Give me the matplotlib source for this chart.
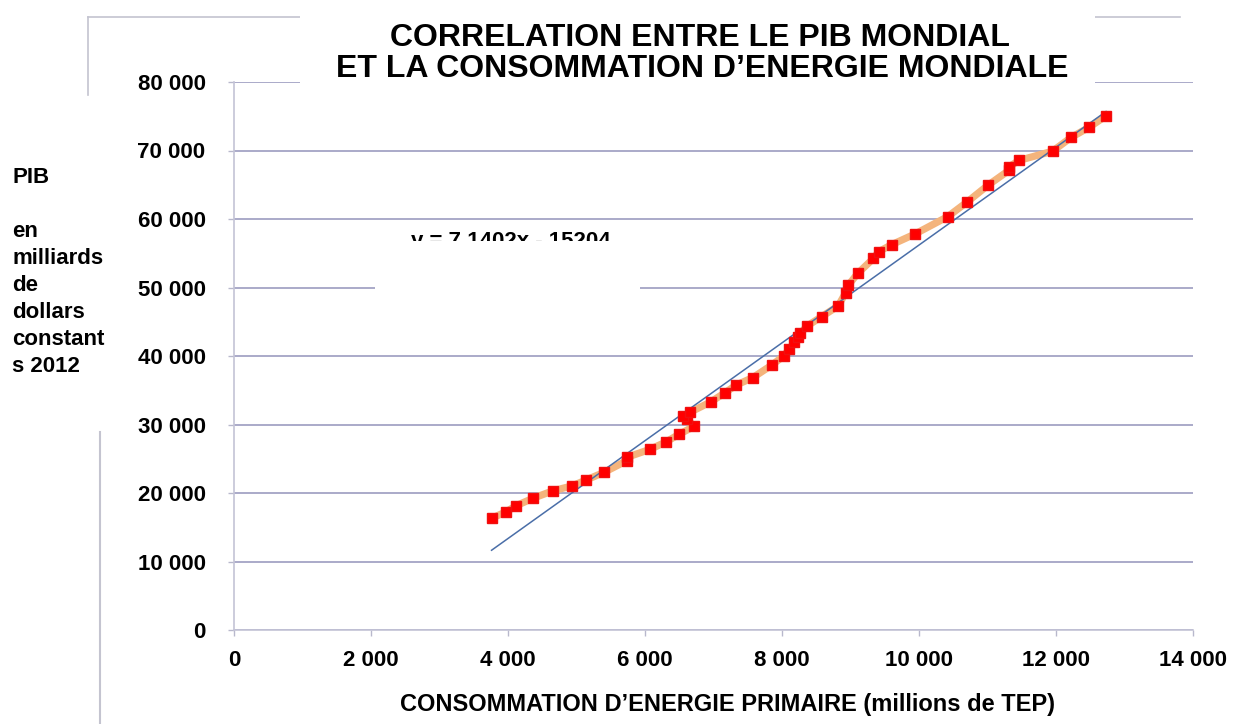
import matplotlib
matplotlib.use('Agg')
import matplotlib.pyplot as plt
from matplotlib.patches import Rectangle
from matplotlib.lines import Line2D

# energy consumption (millions TEP) and world GDP (billions 2012 USD)
energy = [3760, 3970, 4120, 4365, 4650, 4940, 5140, 5400, 5730, 5735,
          6080, 6305, 6495, 6720, 6610, 6560, 6660, 6960, 7170, 7330,
          7575, 7855, 8025, 8105, 8180, 8230, 8265, 8370, 8580, 8820,
          8930, 8970, 9105, 9335, 9415, 9600, 9940, 10420, 10705, 11010,
          11320, 11320, 11460, 11950, 12220, 12485, 12730]
gdp = [16300, 17250, 18150, 19230, 20300, 21050, 21900, 23000, 24700, 25200,
       26400, 27450, 28550, 29750, 30750, 31250, 31800, 33300, 34650, 35750,
       36850, 38700, 40000, 41000, 42000, 42750, 43300, 44400, 45750, 47300,
       49250, 50350, 52050, 54250, 55250, 56250, 57800, 60350, 62500, 64950,
       67150, 67650, 68550, 69900, 71900, 73400, 75050]

# linear trend shown on the chart: y = 7.1402x - 15204
slope = 7.1402
intercept = -15204

x_ticks = [0, 2000, 4000, 6000, 8000, 10000, 12000, 14000]
y_ticks = [0, 10000, 20000, 30000, 40000, 50000, 60000, 70000, 80000]

title_lines = ["CORRELATION ENTRE LE PIB MONDIAL",
               "ET LA CONSOMMATION D\u2019ENERGIE MONDIALE"]
ylabel_lines = ["PIB", "", "en", "milliards", "de", "dollars", "constant", "s 2012"]
xlabel = "CONSOMMATION D\u2019ENERGIE PRIMAIRE (millions de TEP)"

plt.rcParams['font.family'] = ['Liberation Sans', 'DejaVu Sans']

W, H = 1234, 724
fig = plt.figure(figsize=(W / 100, H / 100), dpi=100)


def fx(px):
    return px / W


def fy(py):
    return 1 - py / H


ax = fig.add_axes([fx(234), fy(630), fx(1193) - fx(234), fy(82) - fy(630)])

ax.plot(energy, gdp, color='#f4b47c', lw=5.2, solid_joinstyle='round',
        solid_capstyle='round', zorder=2)
tx = [min(energy), max(energy)]
ty = [slope * v + intercept for v in tx]
ax.plot(tx, ty, color='#4a6ea8', lw=1.1, zorder=3)
ax.plot(energy, gdp, 's', color='#ff0000', ms=6.5, mec='#f01010', zorder=4)

ax.set_xlim(0, 14000)
ax.set_ylim(0, 80000)
ax.set_xticks(x_ticks)
ax.set_yticks(y_ticks)
ax.set_xticklabels([f"{v:,}".replace(",", " ") for v in x_ticks],
                   fontsize=16, fontweight='bold')
ax.set_yticklabels([f"{v:,}".replace(",", " ") for v in y_ticks],
                   fontsize=16, fontweight='bold')
ax.tick_params(axis='y', length=4.5, width=1, color='#b8b8cc', pad=16)
ax.tick_params(axis='x', length=4.5, width=1, color='#b8b8cc', pad=10)
ax.yaxis.grid(True, color='#9c9cc0', lw=1.2)
ax.set_axisbelow(True)
for s in ['top', 'right']:
    ax.spines[s].set_visible(False)
for s in ['left', 'bottom']:
    ax.spines[s].set_color('#c4c4d6')
    ax.spines[s].set_linewidth(1.2)

# outer frame pieces
frame_col = '#c4c4d0'
fig.add_artist(Line2D([fx(88), fx(1180)], [fy(17), fy(17)], color=frame_col, lw=1.2, zorder=1))
fig.add_artist(Line2D([fx(88), fx(88)], [fy(17), fy(95)], color=frame_col, lw=1.2, zorder=1))
fig.add_artist(Line2D([fx(100), fx(100)], [fy(432), fy(724)], color=frame_col, lw=1.5, zorder=1))

# white box behind the title
fig.add_artist(Rectangle((fx(300), fy(92)), fx(1095) - fx(300), fy(0) - fy(92),
                         facecolor='white', edgecolor='none', zorder=5))

# equation label, partly hidden by a white box
fig.text(fx(411), fy(247), "y = 7.1402x - 15204", fontsize=16, fontweight='bold',
         ha='left', va='baseline', zorder=4)
fig.add_artist(Rectangle((fx(375), fy(300)), fx(640) - fx(375), fy(241) - fy(300),
                         facecolor='white', edgecolor='none', zorder=5))

# title
fig.text(fx(700), fy(46), title_lines[0], fontsize=23, fontweight='bold',
         ha='center', va='baseline', zorder=6)
fig.text(fx(702), fy(77), title_lines[1], fontsize=23, fontweight='bold',
         ha='center', va='baseline', zorder=6)

# y label on the left
for i, line in enumerate(ylabel_lines):
    fig.text(fx(12), fy(183 + i * 27), line, fontsize=16, fontweight='bold',
             ha='left', va='baseline', zorder=6)

# x label
fig.text(fx(728), fy(711), xlabel, fontsize=17, fontweight='bold',
         ha='center', va='baseline', zorder=6)

fig.savefig('out.png', dpi=100)
